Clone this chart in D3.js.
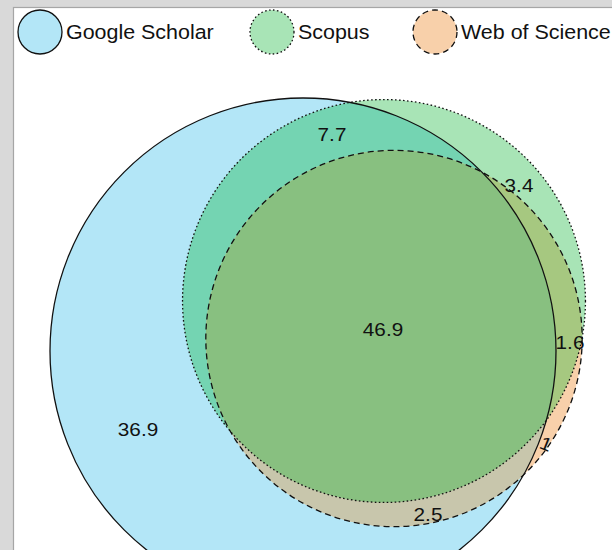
<!DOCTYPE html>
<html><head><meta charset="utf-8">
<script src="https://cdn.jsdelivr.net/npm/d3@7"></script>
<style>
html,body{margin:0;padding:0;background:#d9d9d9;}
svg{display:block;}
text{font-family:"Liberation Sans",Arial,sans-serif;}
</style></head>
<body>
<script>
// ---- data ----
const sets = ["Google Scholar", "Scopus", "Web of Science"];
const regionKeys = ["G", "GS", "GSW", "S", "SW", "W", "GW"];
const regionValues = [36.9, 7.7, 46.9, 3.4, 1.6, 1, 2.5];
const setFills = ["#b3e6f7", "#a8e4b6", "#f8d0aa"];
const setDash = [null, "1.6,2.4", "6,4"];

// set totals derived from regions
const setKeys = ["G", "S", "W"];
const totals = setKeys.map(k => d3.sum(regionKeys.map((rk, i) => rk.includes(k) ? regionValues[i] : 0)));

const W = 612, H = 550;
const svg = d3.select("body").append("svg").attr("width", W).attr("height", H);

// panel
svg.append("rect").attr("x", 13.5).attr("y", 7.5).attr("width", 620).attr("height", 560)
  .attr("fill", "#fff").attr("stroke", "#a6a6a6").attr("stroke-width", 1.2);

// layout
const rScale = d3.scaleSqrt().domain([0, d3.max(totals)]).range([0, 253]);
const centers = [[303, 351], [384, 301], [394, 338.5]];
const circles = setKeys.map((k, i) => ({key: k, cx: centers[i][0], cy: centers[i][1], r: rScale(totals[i])}));

const defs = svg.append("defs");
circles.forEach(c => {
  defs.append("clipPath").attr("id", "clip" + c.key)
    .append("circle").attr("cx", c.cx).attr("cy", c.cy).attr("r", c.r);
});

const cG = circles[0], cS = circles[1], cW = circles[2];
function circ(g, c, fill) {
  return g.append("circle").attr("cx", c.cx).attr("cy", c.cy).attr("r", c.r).attr("fill", fill);
}
const fillG = svg.append("g");
circ(fillG, cG, setFills[0]);
circ(fillG, cS, setFills[1]);
circ(fillG, cW, setFills[2]);
circ(fillG.append("g").attr("clip-path", "url(#clipG)"), cS, "#74d4b2");
circ(fillG.append("g").attr("clip-path", "url(#clipS)"), cW, "#a6c880");
circ(fillG.append("g").attr("clip-path", "url(#clipG)"), cW, "#c8c6ac");
circ(fillG.append("g").attr("clip-path", "url(#clipG)").append("g").attr("clip-path", "url(#clipS)"), cW, "#88c080");

// outlines
circles.forEach((c, i) => {
  svg.append("circle").attr("cx", c.cx).attr("cy", c.cy).attr("r", c.r)
    .attr("fill", "none").attr("stroke", "#111").attr("stroke-width", 1.3)
    .attr("stroke-dasharray", setDash[i]);
});

// region labels
const labelPos = {G: [138, 430, 0], GS: [332, 135, 0], GSW: [383, 330, 0], S: [519, 186, 0], SW: [570, 343, 0], W: [546, 444, 22], GW: [428, 515, 0]};
regionKeys.forEach((k, i) => {
  const p = labelPos[k];
  svg.append("text").attr("transform", `translate(${p[0]},${p[1]}) rotate(${p[2]}) scale(1.12,1)`)
    .attr("text-anchor", "middle").attr("dy", "0.35em")
    .attr("font-size", 18.5).attr("fill", "#111").text(regionValues[i]);
});

// legend
const legendX = [40, 272, 435];
sets.forEach((s, i) => {
  const g = svg.append("g").attr("transform", `translate(${legendX[i]},32)`);
  g.append("ellipse").attr("rx", 22).attr("ry", 22).attr("fill", setFills[i])
    .attr("stroke", "#111").attr("stroke-width", 1.3).attr("stroke-dasharray", setDash[i]);
  g.append("text").attr("transform", "translate(26,7) scale(1.1,1)")
    .attr("font-size", 19.5).attr("fill", "#111").text(s);
});
</script>
</body></html>
